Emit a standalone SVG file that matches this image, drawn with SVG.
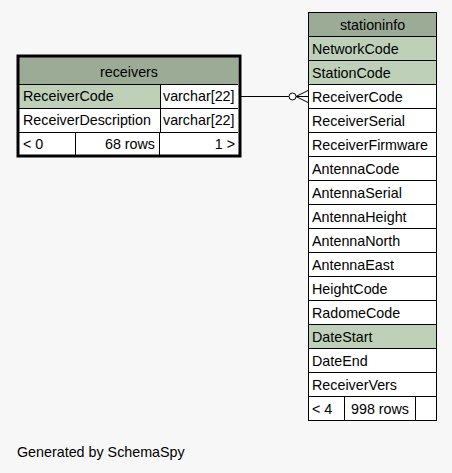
<svg xmlns="http://www.w3.org/2000/svg" width="452" height="473" viewBox="0 0 452 473">
<style>
text{font-family:"Liberation Sans",Arial,Helvetica,sans-serif;font-size:14.3px;fill:#000}
.hd{fill:#9bab96}
.pk{fill:#bed1b8}
.w{fill:#ffffff}
.ln{stroke:#000;stroke-width:1;fill:none}
.mid{text-anchor:middle}
.end{text-anchor:end}
</style>
<rect x="0" y="0" width="452" height="473" fill="#f7f7f7"/>
<g id="connectors">
<line x1="241" y1="96.5" x2="289" y2="96.5" class="ln"/>
<circle cx="292.5" cy="96.5" r="3.5" fill="#fff" stroke="#000" stroke-width="1"/>
<path d="M296 96.5 L308 90.5 M296 96.5 L308 96.5 M296 96.5 L308 102.5" class="ln"/>
</g>
<g id="receivers">
<rect x="19" y="57" width="219" height="27" class="hd"/>
<rect x="19" y="84" width="141" height="24" class="pk"/>
<rect x="160" y="84" width="78" height="24" class="w"/>
<rect x="19" y="108" width="219" height="47" class="w"/>
<path d="M19 84.5 H238 M19 108.5 H238 M19 132.5 H238 M160.5 84 V132 M75.5 132 V155 M159.5 132 V155" class="ln"/>
<rect x="18" y="56" width="222" height="100" fill="none" stroke="#000" stroke-width="3"/>
<text x="129" y="76.5" class="mid">receivers</text>
<text x="23" y="101">ReceiverCode</text>
<text x="163" y="101">varchar[22]</text>
<text x="23" y="125">ReceiverDescription</text>
<text x="163" y="125">varchar[22]</text>
<text x="23" y="148.5">&lt; 0</text>
<text x="155" y="148.5" class="end">68 rows</text>
<text x="235" y="148.5" class="end">1 &gt;</text>
</g>
<g id="stationinfo">
<rect x="308.5" y="12.5" width="128" height="24" class="hd"/>
<rect x="308.5" y="36.5" width="128" height="48" class="pk"/>
<rect x="308.5" y="84.5" width="128" height="240" class="w"/>
<rect x="308.5" y="324.5" width="128" height="24" class="pk"/>
<rect x="308.5" y="348.5" width="128" height="72" class="w"/>
<path d="M308 36.5 H436 M308 60.5 H436 M308 84.5 H436 M308 108.5 H436 M308 132.5 H436 M308 156.5 H436 M308 180.5 H436 M308 204.5 H436 M308 228.5 H436 M308 252.5 H436 M308 276.5 H436 M308 300.5 H436 M308 324.5 H436 M308 348.5 H436 M308 372.5 H436 M308 396.5 H436 M344.5 396 V420 M415.5 396 V420" class="ln"/>
<rect x="308.5" y="12.5" width="128" height="408" class="ln"/>
<text x="372.5" y="29.5" class="mid">stationinfo</text>
<text x="312" y="53.5">NetworkCode</text>
<text x="312" y="77.5">StationCode</text>
<text x="312" y="101.5">ReceiverCode</text>
<text x="312" y="125.5">ReceiverSerial</text>
<text x="312" y="149.5">ReceiverFirmware</text>
<text x="312" y="173.5">AntennaCode</text>
<text x="312" y="197.5">AntennaSerial</text>
<text x="312" y="221.5">AntennaHeight</text>
<text x="312" y="245.5">AntennaNorth</text>
<text x="312" y="269.5">AntennaEast</text>
<text x="312" y="293.5">HeightCode</text>
<text x="312" y="317.5">RadomeCode</text>
<text x="312" y="341.5">DateStart</text>
<text x="312" y="365.5">DateEnd</text>
<text x="312" y="389.5">ReceiverVers</text>
<text x="312" y="413.5">&lt; 4</text>
<text x="380" y="413.5" class="mid">998 rows</text>
</g>
<text x="17" y="457">Generated by SchemaSpy</text>
</svg>
